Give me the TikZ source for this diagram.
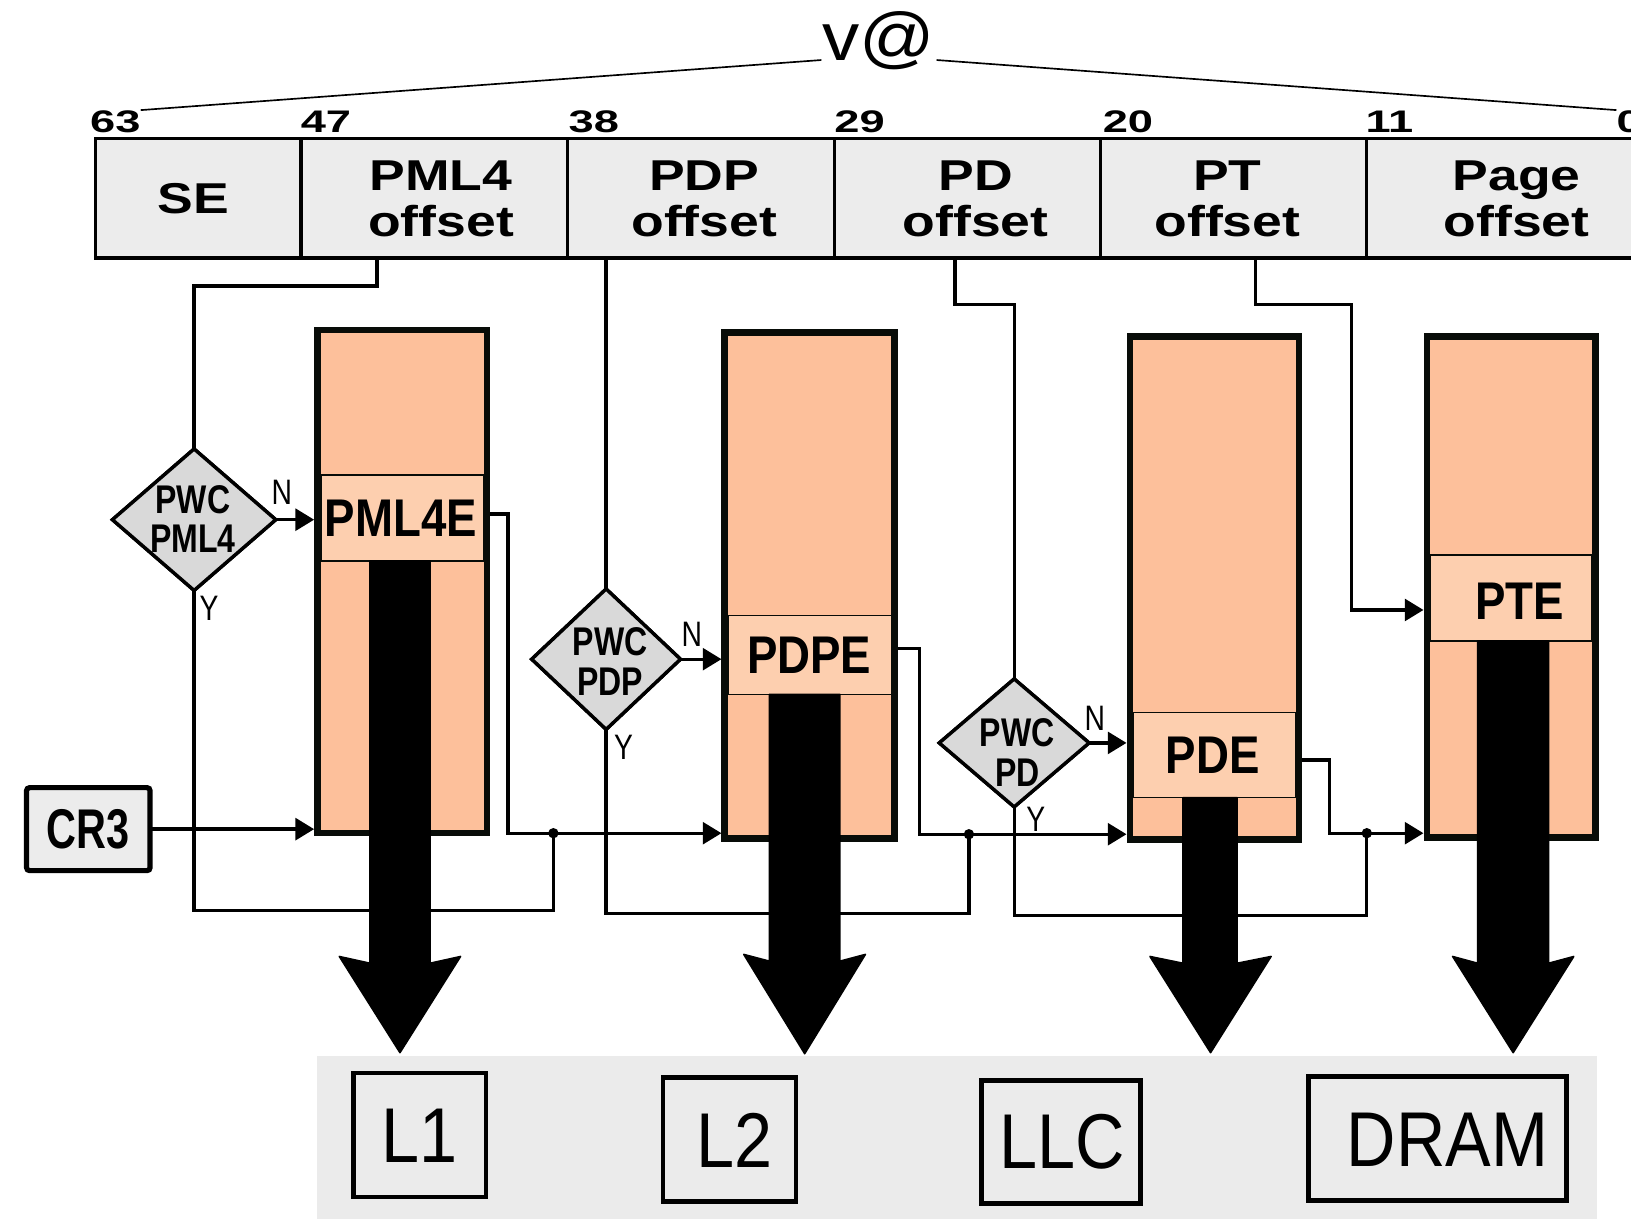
\documentclass[tikz,border=0pt]{standalone}
\usepackage{fontspec}
\usetikzlibrary{arrows.meta,shapes.geometric}
\newfontfamily\fbits[FakeStretch=1.45]{Liberation Sans}
\newfontfamily\ffield[FakeStretch=1.24]{Liberation Sans}
\newfontfamily\fdiam[FakeStretch=0.8]{Liberation Sans}
\newfontfamily\fentry[FakeStretch=0.86]{Liberation Sans}
\newfontfamily\fcr[FakeStretch=0.74]{Liberation Sans}
\newfontfamily\fyn[FakeStretch=0.8]{Liberation Sans}
\newfontfamily\fcache[FakeStretch=0.88]{Liberation Sans}
\newfontfamily\fva[FakeStretch=1.1]{Liberation Sans}
\definecolor{peach}{RGB}{253,192,155}
\definecolor{peachlt}{RGB}{253,207,175}
\definecolor{fieldgray}{RGB}{236,236,236}
\definecolor{diamgray}{RGB}{217,217,217}
\definecolor{bandgray}{RGB}{235,235,235}
\definecolor{tblborder}{RGB}{8,12,8}
\tikzset{
  fieldbox/.style={draw, line width=3.2pt, fill=fieldgray, inner sep=0, outer sep=0, minimum height=115},
  fieldtxt/.style={font=\ffield\bfseries\fontsize{41.5}{44.8}\selectfont, align=center, inner sep=0},
  bitnum/.style={font=\fbits\bfseries\fontsize{30}{32}\selectfont, inner sep=0, anchor=base west},
  thinline/.style={line width=1.6pt},
  tblbox/.style={draw=tblborder, line width=6.5pt, fill=peach, inner sep=0},
  entrybox/.style={draw=tblborder, line width=1.2pt, fill=peachlt, inner sep=0, outer sep=0},
  entrytxt/.style={font=\fentry\bfseries\fontsize{51}{56}\selectfont, inner sep=0},
  diam/.style={shape=diamond, draw, line width=3.3pt, fill=diamgray, inner sep=0, outer sep=0},
  diamtxt/.style={font=\fdiam\bfseries\fontsize{38.5}{37.8}\selectfont, align=center, inner sep=0},
  yn/.style={font=\fyn\fontsize{34}{36}\selectfont, inner sep=0},
  conn/.style={line width=3.2pt},
  arr/.style={conn, -{Triangle[length=18pt,width=21pt]}},
  bigarrow/.style={fill=black, draw=black, line width=1.5pt, line join=round},
  cachebox/.style={draw, line width=4.5pt, inner sep=0},
  cachetxt/.style={font=\fcache\fontsize{74.7}{80}\selectfont, inner sep=0},
  jdot/.style={fill=black}
}
\begin{document}
\begin{tikzpicture}[x=1pt,y=-1pt]
\useasboundingbox (0,0) rectangle (1568,1171);
\clip (0,0) rectangle (1568,1171);
\fill[white] (0,0) rectangle (1568,1171);

% bottom band
\node[fill=bandgray, minimum width=1230.3, minimum height=170, inner sep=0, anchor=north west] (band) at (304.7,1015) {};

% address fields
\node[fieldbox, minimum width=198] (fSE) at (190.5,190.5) {};
\node[fieldbox, minimum width=256] (fPML4) at (417.5,190.5) {};
\node[fieldbox, minimum width=256.5] (fPDP) at (673.75,190.5) {};
\node[fieldbox, minimum width=256] (fPD) at (930,190.5) {};
\node[fieldbox, minimum width=256] (fPT) at (1186,190.5) {};
\node[fieldbox, minimum width=288] (fPage) at (1458,190.5) {};
\node[fieldtxt] (tSE) at (186,191) {SE};
\node[fieldtxt] (tPML4) at (424,191) {PML4\\offset};
\node[fieldtxt] (tPDP) at (677,191) {PDP\\offset};
\node[fieldtxt] (tPD) at (938,191) {PD\\offset};
\node[fieldtxt] (tPT) at (1180,191) {PT\\offset};
\node[fieldtxt] (tPage) at (1458,191) {Page\\offset};

% bit numbers
\node[bitnum] (b63) at (86.5,127) {63};
\node[bitnum] (b47) at (289,127) {47};
\node[bitnum] (b38) at (546.5,127) {38};
\node[bitnum] (b29) at (802,127) {29};
\node[bitnum] (b20) at (1060,127) {20};
\node[bitnum] (b11) at (1312.6,127) {11};
\node[bitnum] (b0) at (1554,127) {0};

% v@
\node[font=\fva\fontsize{65}{70}\selectfont, inner sep=1pt, anchor=base] (va) at (845,57.7) {v@};
\draw[thinline] (b63.north east) -- (va.base west);
\draw[thinline] (va.base east) -- (b0.north west);

% tables
\node[tblbox, minimum width=163, minimum height=483.5] (t1) at (386.75,559) {};
\node[tblbox, minimum width=163.4, minimum height=485.9] (t2) at (778.55,562.8) {};
\node[tblbox, minimum width=162.5, minimum height=483.1] (t3) at (1167.5,565.2) {};
\node[tblbox, minimum width=162, minimum height=482] (t4) at (1452.75,564.25) {};
\node[entrybox, minimum width=156.5, minimum height=82.7] (e1) at (386.75,497.95) {};
\node[entrybox, minimum width=157, minimum height=75.6] (e2) at (778.55,629.7) {};
\node[entrybox, minimum width=156, minimum height=81.8] (e3) at (1167.5,725.9) {};
\node[entrybox, minimum width=155.5, minimum height=82.7] (e4) at (1452.75,574.85) {};
\node[entrytxt] (e1t) at (385.3,497.8) {PML4E};
\node[entrytxt] (e2t) at (778,630) {PDPE};
\node[entrytxt] (e3t) at (1166,726.5) {PDE};
\node[entrytxt] (e4t) at (1460.7,578.4) {PTE};

% CR3
\node[draw, line width=5pt, fill=fieldgray, rounded corners=3pt, minimum width=118.8, minimum height=79.8, inner sep=0, outer sep=0, font=\fcr\bfseries\fontsize{53.8}{58}\selectfont] (cr3) at (84.9,797.1) {CR3};

% diamonds (positions)
\node[diam, minimum width=157, minimum height=136] (d1) at (186.6,499.6) {};
\node[diam, minimum width=143, minimum height=135] (d2) at (582.7,633.7) {};
\node[diam, minimum width=144, minimum height=123] (d3) at (975,714.2) {};

% junctions
\coordinate (j1) at (532,801);
\coordinate (j2) at (931.5,802);
\coordinate (j3) at (1314,801);

% connectors
\draw[conn] (fPML4.south -| 362.5,0) -- (362.5,275) -| (d1.north);
\draw[conn] (fPDP.south -| d2.north) -- (d2.north);
\draw[conn] (fPD.south -| 918,0) -- (918,293) -| (d3.north);
\draw[arr] (fPT.south -| 1207,0) -- (1207,293) -- (1299,293) |- (t4.west |- 0,586.4);

\draw[arr] (d1.east) -- (d1.east -| t1.west);
\draw[arr] (d2.east) -- (d2.east -| t2.west);
\draw[arr] (d3.east) -- (d3.east -| t3.west);
\draw[arr] (cr3.east) -- (cr3.east -| t1.west);

\draw[arr] (t1.east |- 0,494) -- (488.5,494) |- (t2.west |- j1);
\draw[conn] (d1.south) -- (d1.south |- 0,875) -| (j1);
\draw[arr] (t2.east |- 0,623.3) -- (884,623.3) |- (t3.west |- j2);
\draw[conn] (d2.south) -- (d2.south |- 0,878) -| (j2);
\draw[arr] (t3.east |- 0,730.6) -- (1278,730.6) |- (t4.west |- j3);
\draw[conn] (d3.south) -- (d3.south |- 0,880) -| (j3);
\fill[jdot] (j1) circle[radius=5];
\fill[jdot] (j2) circle[radius=5];
\fill[jdot] (j3) circle[radius=5];

% diamonds drawn over line ends
\node[diam, minimum width=157, minimum height=136] at (d1) {};
\node[diam, minimum width=143, minimum height=135] at (d2) {};
\node[diam, minimum width=144, minimum height=123] at (d3) {};
\node[diamtxt] (d1t) at (185.5,499) {PWC\\PML4};
\node[diamtxt] (d2t) at (586.6,636) {PWC\\PDP};
\node[diamtxt] (d3t) at (978,723.4) {PWC\\PD};

% N / Y labels
\node[yn] (n1) at (271,473) {N};
\node[yn] (n2) at (665,610) {N};
\node[yn] (n3) at (1052.5,690.5) {N};
\node[yn] (y1) at (201,585) {Y};
\node[yn] (y2) at (599.4,718.3) {Y};
\node[yn] (y3) at (995.8,787.5) {Y};

% big arrows
\filldraw[bigarrow] (e1.south -| 355.7,0) -- (355.7,926) -- (326.2,919.5) -- (384.5,1012) -- (442.8,919.5) -- (413.4,926) -- (e1.south -| 413.4,0) -- cycle;
\filldraw[bigarrow] (e2.south -| 739.7,0) -- (739.7,924) -- (715,917.5) -- (773.6,1013) -- (832,917.5) -- (807.5,924) -- (e2.south -| 807.5,0) -- cycle;
\filldraw[bigarrow] (e3.south -| 1137.3,0) -- (1137.3,926) -- (1105.5,919.5) -- (1163.8,1012) -- (1222,919.5) -- (1189.3,926) -- (e3.south -| 1189.3,0) -- cycle;
\filldraw[bigarrow] (e4.south -| 1420.5,0) -- (1420.5,926) -- (1396.5,919.5) -- (1454.7,1012) -- (1513,919.5) -- (1488.8,926) -- (e4.south -| 1488.8,0) -- cycle;

% caches
\node[cachebox, minimum width=127.5, minimum height=119.3] (c1) at (403.5,1091.1) {};
\node[cachebox, minimum width=128, minimum height=119.5] (c2) at (701.3,1095.5) {};
\node[cachebox, minimum width=153.5, minimum height=118] (c3) at (1020,1097.8) {};
\node[cachebox, minimum width=248.4, minimum height=119] (c4) at (1382,1094.4) {};
\node[cachetxt] (c1t) at (403,1092) {L1};
\node[cachetxt] (c2t) at (705.8,1096) {L2};
\node[cachetxt] (c3t) at (1021.6,1098) {LLC};
\node[cachetxt] (c4t) at (1391.4,1095.4) {DRAM};
\end{tikzpicture}
\end{document}
